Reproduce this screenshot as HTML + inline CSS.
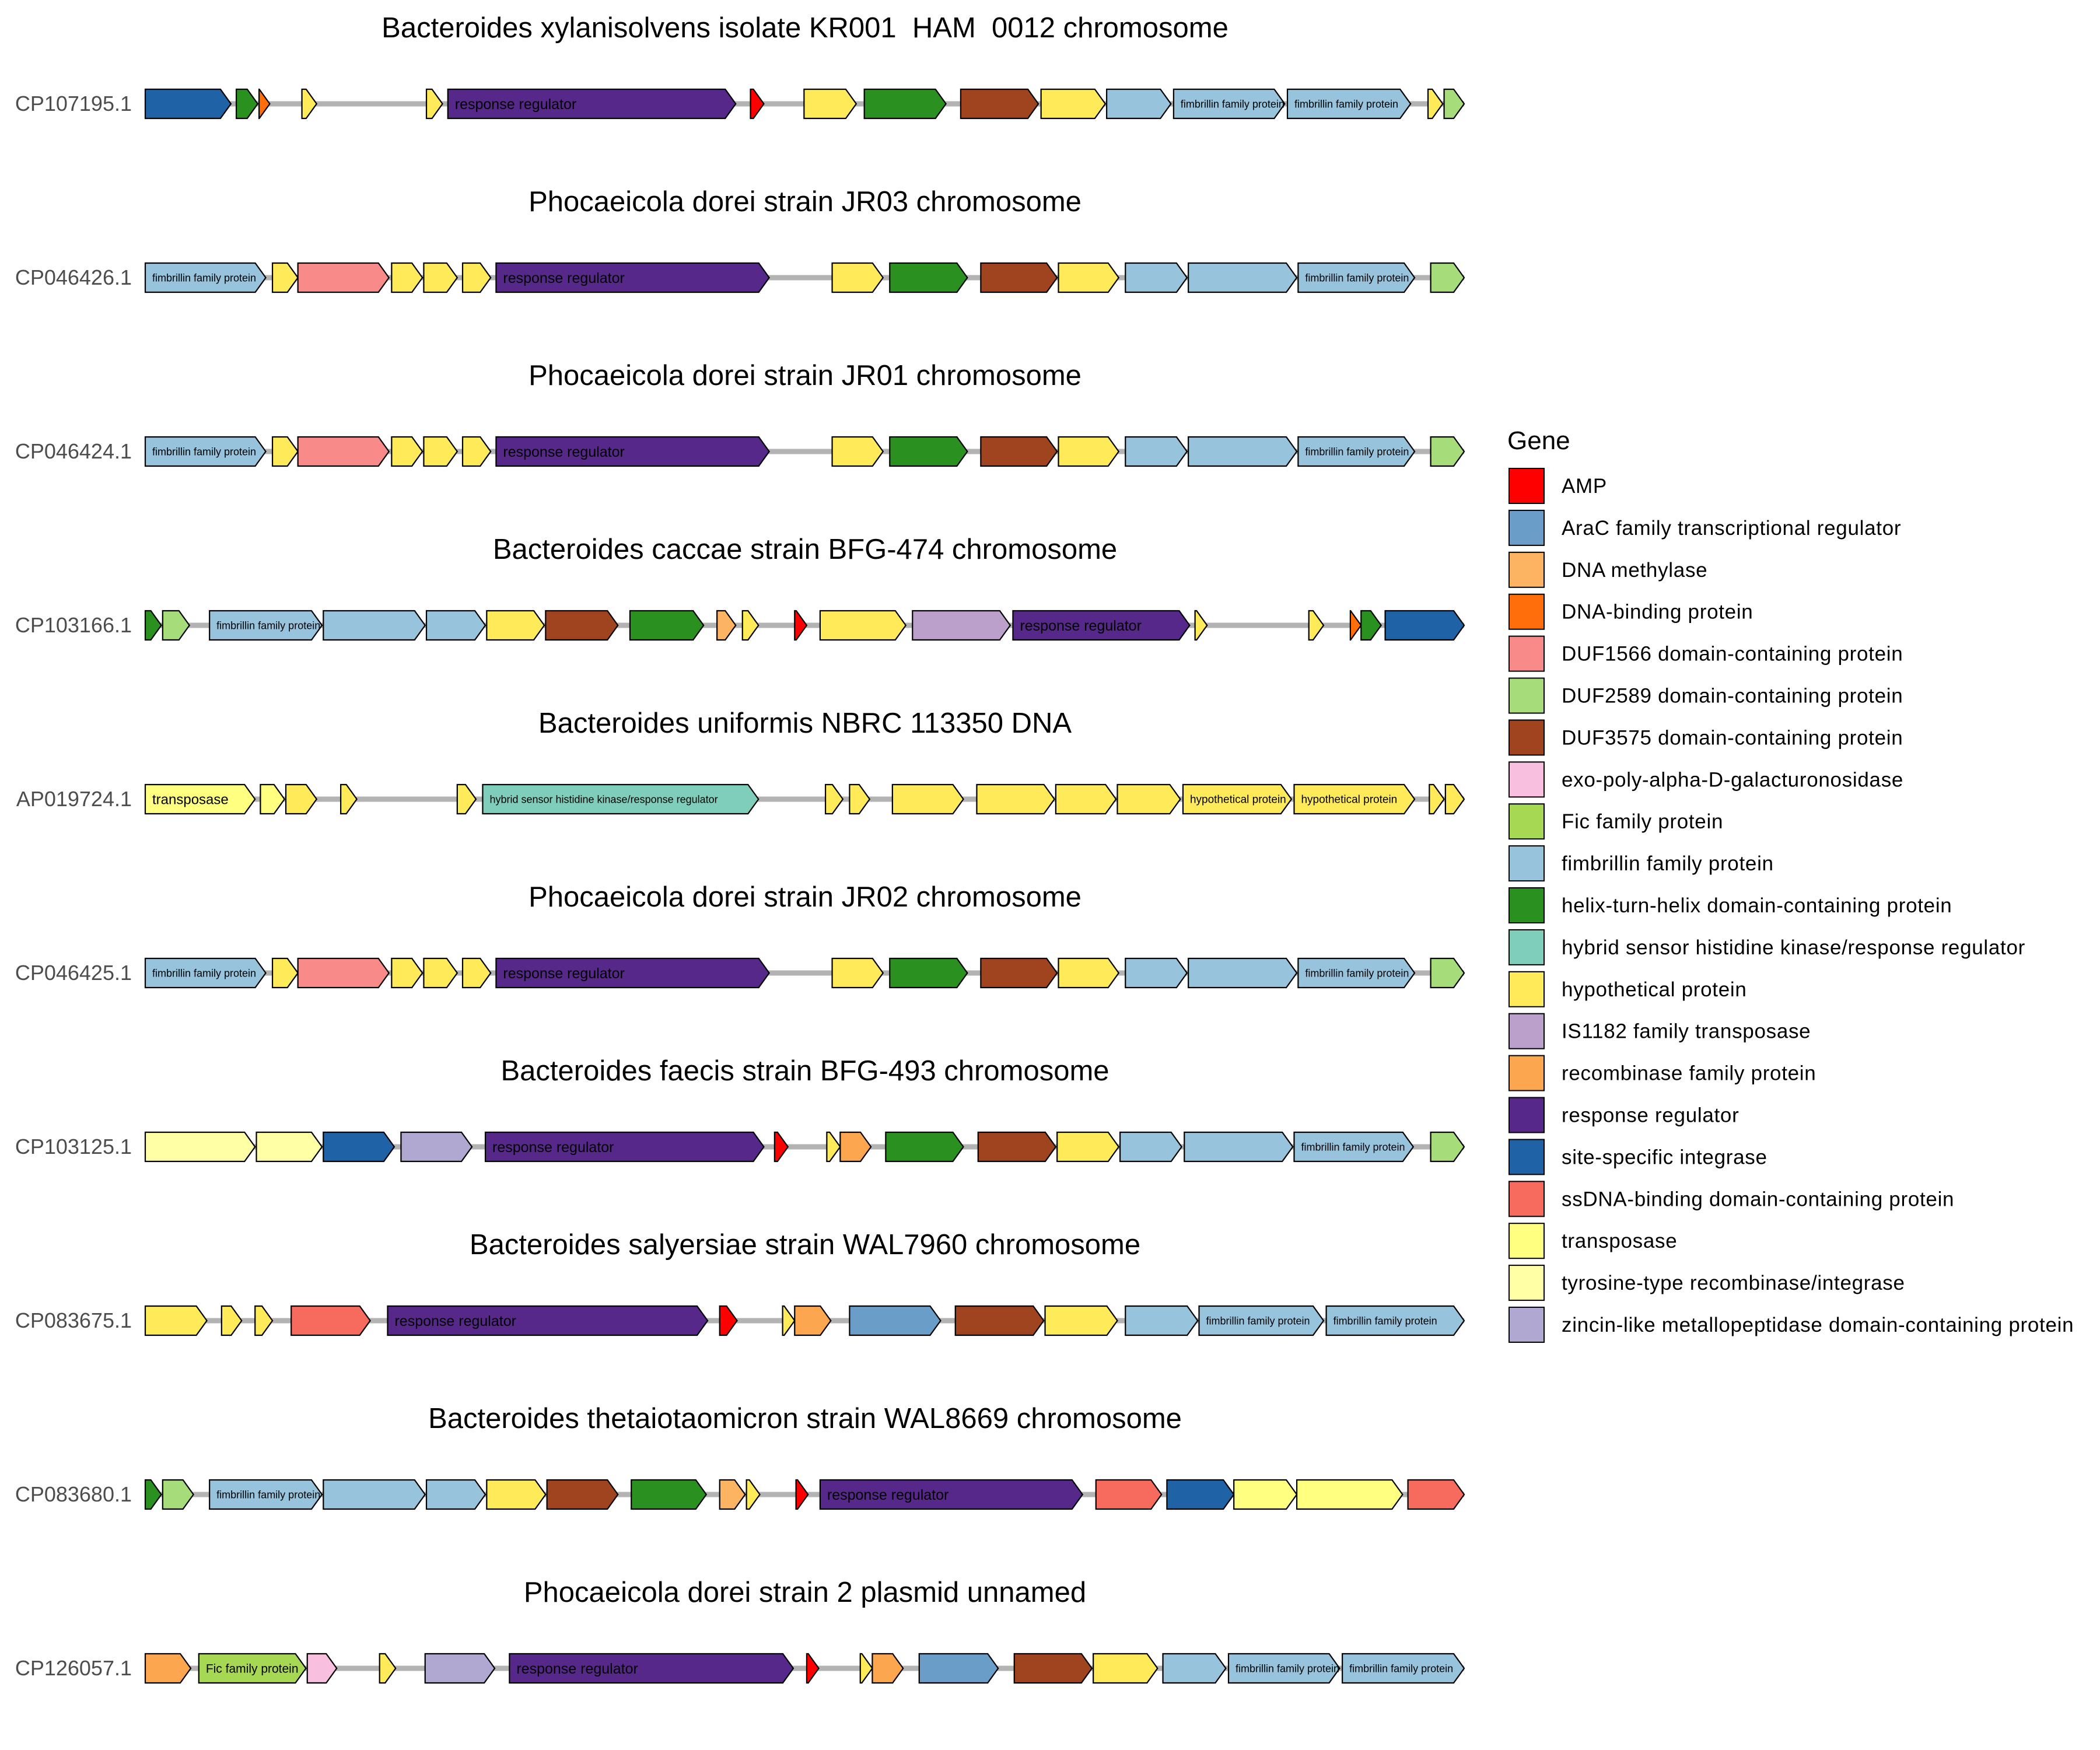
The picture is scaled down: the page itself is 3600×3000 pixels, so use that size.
<!DOCTYPE html>
<html><head><meta charset="utf-8"><style>
html,body{margin:0;padding:0;background:#fff}
svg{display:block}
text{font-family:"Liberation Sans",Arial,sans-serif}
</style></head><body>
<svg id="chart" width="3600" height="3000" viewBox="0 0 3600 3000" xmlns="http://www.w3.org/2000/svg"></svg>
<script>
const geneTypes = ["AMP","AraC family transcriptional regulator","DNA methylase","DNA-binding protein","DUF1566 domain-containing protein","DUF2589 domain-containing protein","DUF3575 domain-containing protein","exo-poly-alpha-D-galacturonosidase","Fic family protein","fimbrillin family protein","helix-turn-helix domain-containing protein","hybrid sensor histidine kinase/response regulator","hypothetical protein","IS1182 family transposase","recombinase family protein","response regulator","site-specific integrase","ssDNA-binding domain-containing protein","transposase","tyrosine-type recombinase/integrase","zincin-like metallopeptidase domain-containing protein"];
const geneColors = ["#FF0000","#6A9EC8","#FDB462","#FF6E0A","#F88A89","#A6DC7A","#A04420","#F9BFDF","#A6D854","#97C3DC","#2A9120","#7FCDBB","#FFEB5A","#BCA0CC","#FDA650","#56288A","#1F63A6","#F76A5E","#FFFF80","#FFFFA5","#B0A8D0"];
const trackTitles = ["Bacteroides xylanisolvens isolate KR001  HAM  0012 chromosome","Phocaeicola dorei strain JR03 chromosome","Phocaeicola dorei strain JR01 chromosome","Bacteroides caccae strain BFG-474 chromosome","Bacteroides uniformis NBRC 113350 DNA","Phocaeicola dorei strain JR02 chromosome","Bacteroides faecis strain BFG-493 chromosome","Bacteroides salyersiae strain WAL7960 chromosome","Bacteroides thetaiotaomicron strain WAL8669 chromosome","Phocaeicola dorei strain 2 plasmid unnamed"];
const trackIds = ["CP107195.1","CP046426.1","CP046424.1","CP103166.1","AP019724.1","CP046425.1","CP103125.1","CP083675.1","CP083680.1","CP126057.1"];
// genes per track: [start, end, typeIndex, showLabel]
const dorei = [[0,90,9,1],[95,114,12,0],[114,182,4,0],[184,207,12,0],[208,233,12,0],[237,258,12,0],[262,466,15,1],[513,551,12,0],[556,614,10,0],[624,681,6,0],[682,727,12,0],[732,778,9,0],[779,860,9,0],[861,948,9,1],[960,985,5,0]];
const trackGenes = [
 [[0,64,16,0],[68,84,10,0],[85,93,3,0],[117,128,12,0],[210,222,12,0],[226,441,15,1],[452,462,0,0],[492,531,12,0],[537,598,10,0],[609,667,6,0],[669,717,12,0],[718,766,9,0],[768,851,9,1],[853,945,9,1],[958,969,12,0],[970,985,5,0]],
 dorei, dorei,
 [[0,12,10,0],[13,33,5,0],[48,132,9,1],[133,209,9,0],[210,254,9,0],[255,298,12,0],[299,353,6,0],[362,417,10,0],[427,441,2,0],[446,458,12,0],[485,494,0,0],[504,568,12,0],[573,646,13,0],[648,780,15,1],[784,793,12,0],[869,880,12,0],[900,908,3,0],[908,923,10,0],[926,985,16,0]],
 [[0,82,18,1],[86,104,18,0],[105,128,12,0],[146,158,12,0],[233,247,12,0],[252,458,11,1],[508,521,12,0],[526,541,12,0],[558,611,12,0],[621,679,12,0],[680,725,12,0],[726,773,12,0],[775,856,12,1],[858,948,12,1],[959,970,12,0],[971,985,12,0]],
 dorei,
 [[0,82,19,0],[83,132,19,0],[133,186,16,0],[191,244,20,0],[254,462,15,1],[470,480,0,0],[509,519,12,0],[519,542,14,0],[553,611,10,0],[622,680,6,0],[681,727,12,0],[728,774,9,0],[776,857,9,0],[858,947,9,1],[960,985,5,0]],
 [[0,46,12,0],[57,72,12,0],[82,95,12,0],[109,168,17,0],[181,420,15,1],[429,442,0,0],[476,485,12,0],[485,512,14,0],[526,594,1,0],[605,671,6,0],[672,726,12,0],[732,786,9,0],[787,880,9,1],[882,985,9,1]],
 [[0,12,10,0],[13,36,5,0],[48,132,9,1],[133,209,9,0],[210,254,9,0],[255,299,12,0],[300,353,6,0],[363,419,10,0],[429,448,2,0],[449,459,12,0],[486,495,0,0],[504,700,15,1],[710,759,17,0],[763,813,16,0],[813,860,18,0],[860,939,18,0],[943,985,17,0]],
 [[0,34,14,0],[40,120,8,1],[121,143,7,0],[175,187,12,0],[209,261,20,0],[272,484,15,1],[494,503,0,0],[534,543,12,0],[543,566,14,0],[578,637,1,0],[649,707,6,0],[708,756,12,0],[760,807,9,0],[809,892,9,1],[894,985,9,1]]
];
const domainMax = 985;
const NS="http://www.w3.org/2000/svg";
const svg=document.getElementById('chart');
const x0=249, x1=2510;
function xs(v){return x0+(v/domainMax)*(x1-x0);}
const trackY0=178, trackStep=298, geneH=50;
function mk(tag,attrs,parent){const e=document.createElementNS(NS,tag);for(const k in attrs)e.setAttribute(k,attrs[k]);(parent||svg).appendChild(e);return e;}
const labelSize={15:25,9:18,12:19,18:24,11:18,8:21};
trackIds.forEach((id,t)=>{
  const cy=trackY0+t*trackStep;
  const g=mk('g',{});
  
  
  const title=mk('text',{x:1380,y:cy-131+17,'text-anchor':'middle','font-size':49,fill:'#000',style:'white-space:pre'},g);
  
  
  title.textContent=trackTitles[t];
  const lab=mk('text',{x:226,y:cy+12,'text-anchor':'end','font-size':36,fill:'#4d4d4d'},g);
  
  
  lab.textContent=id;
  const line=mk('line',{x1:x0,x2:x1,y1:cy,y2:cy,stroke:'#b3b3b3','stroke-width':9},g);
  
  
  trackGenes[t].forEach(gn=>{
    const a=xs(gn[0]), b=xs(gn[1]);
    const w=b-a, head=Math.min(18,w);
    const top=cy-geneH/2, bot=cy+geneH/2;
    const pts=`${a},${top} ${b-head},${top} ${b},${cy} ${b-head},${bot} ${a},${bot}`;
    const p=mk('polygon',{points:pts,fill:geneColors[gn[2]],stroke:'#000','stroke-width':2.2,'stroke-linejoin':'miter'},g);
    
    
    if(gn[3]){
      const fs=labelSize[gn[2]]||18;
      const tx=mk('text',{x:a+12,y:cy+fs*0.35,'font-size':fs,fill:'#000'},g);
      
      
      tx.textContent=geneTypes[gn[2]];
    }
  });
});
const lg=mk('g',{});


const lt=mk('text',{x:2584,y:770,'font-size':44,fill:'#000'},lg);


lt.textContent='Gene';
geneTypes.forEach((nm,i)=>{
  const cy=833+i*71.9;
  const r=mk('rect',{x:2587,y:cy-30,width:60,height:60,fill:geneColors[i],stroke:'#000','stroke-width':2},lg);
  
  
  const tx=mk('text',{x:2677,y:cy+12,'font-size':35,'letter-spacing':0.7,fill:'#000'},lg);
  
  
  tx.textContent=nm;
});
</script>
</body></html>
